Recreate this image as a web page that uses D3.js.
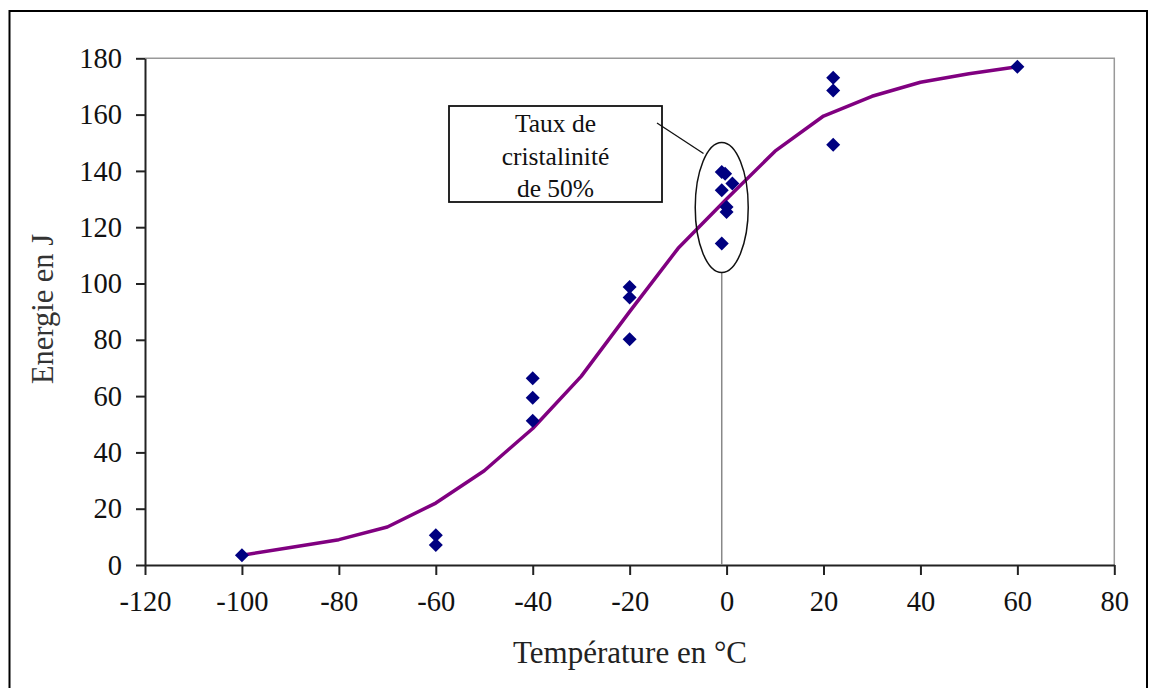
<!DOCTYPE html>
<html><head><meta charset="utf-8">
<script src="https://cdn.jsdelivr.net/npm/d3@7"></script>
<style>body{margin:0;background:#fff}svg{display:block}svg text{font-family:"Liberation Serif","Times New Roman",serif !important}</style>
</head><body>
<svg id="c" width="1157" height="688"></svg>
<script>
// measured points
const pointTemps  = [-100, -60, -60, -40, -40, -40, -20, -20, -20, -1, -0.3, 1.2, -1, 0, 0, -1, 22, 22, 22, 60];
const pointEnergy = [3.5, 10.6, 7.1, 66.3, 59.4, 51.2, 98.8, 95.0, 80.2, 139.6, 139.0, 135.5, 133.1, 127.2, 125.4, 114.2, 173.1, 168.6, 149.3, 177];
// fitted curve
const curveTemps  = [-100, -90, -80, -70, -60, -50, -40, -30, -20, -10, 0, 10, 20, 30, 40, 50, 60];
const curveEnergy = [3.5, 6.2, 9, 13.5, 22, 33.5, 48.5, 67, 90, 112.5, 130, 147, 159.5, 166.5, 171.5, 174.5, 177];
const xTicks = [-120, -100, -80, -60, -40, -20, 0, 20, 40, 60, 80];
const yTicks = [0, 20, 40, 60, 80, 100, 120, 140, 160, 180];
const annotationLines = ["Taux de", "cristalinité", "de 50%"];
const xTitle = "Température en °C";
const yTitle = "Energie en J";

const FONT = '"Liberation Serif","Times New Roman",serif';
const svg = d3.select("#c");
const L = 145, R = 1114.3, T = 58.3, B = 565;
const x = d3.scaleLinear().domain([-120, 80]).range([L, R]);
const y = d3.scaleLinear().domain([0, 180]).range([B, T]);

// outer frame
svg.append("rect").attr("x", 9.5).attr("y", 11).attr("width", 1137.5).attr("height", 700)
  .attr("fill", "none").attr("stroke", "#000").attr("stroke-width", 2);

// plot area top/right border
svg.append("path").attr("d", `M${L},${T}H${R}V${B}`).attr("fill", "none")
  .attr("stroke", "#999").attr("stroke-width", 1.5);

// axes
const fmt = d => String(d);
const xAxis = svg.append("g").attr("transform", `translate(0,${B})`)
  .call(d3.axisBottom(x).tickValues(xTicks).tickSize(10).tickSizeOuter(0).tickPadding(16).tickFormat(fmt));
const yAxis = svg.append("g").attr("transform", `translate(${L},0)`)
  .call(d3.axisLeft(y).tickValues(yTicks).tickSize(9).tickSizeOuter(0).tickPadding(14).tickFormat(fmt));
[xAxis, yAxis].forEach(g => {
  g.attr("font-family", FONT).attr("font-size", 28);
  g.select(".domain").attr("stroke", "#222").attr("stroke-width", 2);
  g.selectAll(".tick line").attr("stroke", "#222").attr("stroke-width", 2);
  g.selectAll(".tick text").attr("fill", "#111").style("font-family", FONT).style("font-size", "28.5px");
});
xAxis.selectAll(".tick text").attr("dy", "0.71em");

// axis titles
svg.append("text").attr("x", 630).attr("y", 663).attr("text-anchor", "middle")
  .style("font-family", FONT).style("font-size", "31px").attr("fill", "#222").text(xTitle);
svg.append("text").attr("transform", "translate(53,309) rotate(-90)").attr("text-anchor", "middle")
  .style("font-family", FONT).style("font-size", "30.5px").attr("fill", "#333").text(yTitle);

// annotation: vertical line + ellipse
const ex = x(-1), ey = y(127);
svg.append("line").attr("x1", ex).attr("x2", ex).attr("y1", ey + 65).attr("y2", B)
  .attr("stroke", "#888").attr("stroke-width", 1.5);

// curve
const curve = curveTemps.map((t, i) => [t, curveEnergy[i]]);
svg.append("path").datum(curve)
  .attr("d", d3.line().x(d => x(d[0])).y(d => y(d[1])))
  .attr("fill", "none").attr("stroke", "#800080").attr("stroke-width", 3.5).attr("stroke-linejoin", "round");

// points
const pts = pointTemps.map((t, i) => [t, pointEnergy[i]]);
svg.append("g").selectAll("path").data(pts).join("path")
  .attr("transform", d => `translate(${x(d[0])},${y(d[1])})`)
  .attr("d", "M0,-7L7,0L0,7L-7,0Z").attr("fill", "#000080");

svg.append("ellipse").attr("cx", ex).attr("cy", ey).attr("rx", 26.5).attr("ry", 65)
  .attr("fill", "none").attr("stroke", "#111").attr("stroke-width", 1.5);

// callout box
svg.append("rect").attr("x", 449).attr("y", 106).attr("width", 213).attr("height", 96)
  .attr("fill", "#fff").attr("stroke", "#111").attr("stroke-width", 1.8);
svg.append("line").attr("x1", 657).attr("y1", 123).attr("x2", 703.5).attr("y2", 153.5)
  .attr("stroke", "#111").attr("stroke-width", 1.3);
svg.append("g").selectAll("text").data(annotationLines).join("text")
  .attr("x", 555.5).attr("y", (d, i) => 132 + i * 32.5).attr("text-anchor", "middle")
  .style("font-family", FONT).style("font-size", "25.5px").attr("fill", "#111").text(d => d);
</script>
</body></html>
